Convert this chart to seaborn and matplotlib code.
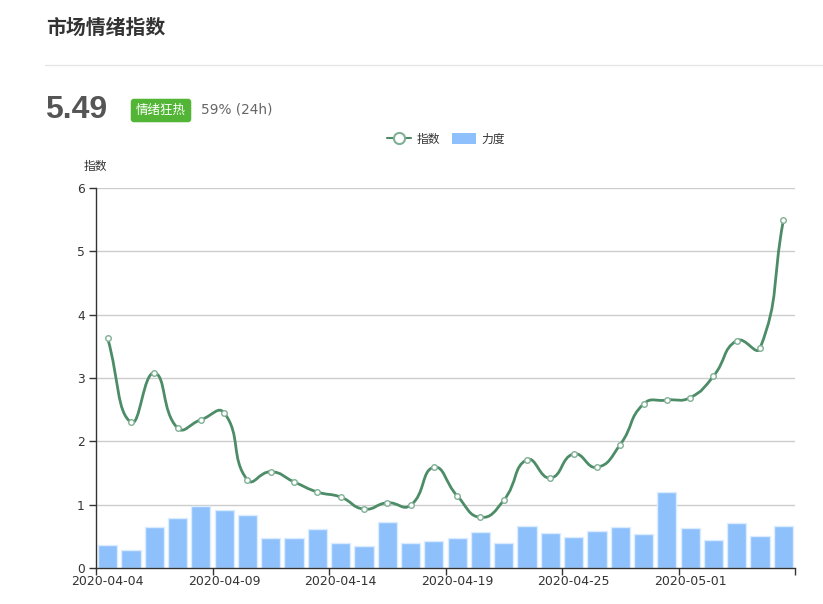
import numpy as np
import pandas as pd
import seaborn as sns
import matplotlib.pyplot as plt
from matplotlib.path import Path
from matplotlib.patches import PathPatch, Patch
from matplotlib.lines import Line2D

dates = ["2020-04-04", "2020-04-05", "2020-04-06", "2020-04-07", "2020-04-08",
         "2020-04-09", "2020-04-10", "2020-04-11", "2020-04-12", "2020-04-13",
         "2020-04-14", "2020-04-15", "2020-04-16", "2020-04-17", "2020-04-18",
         "2020-04-19", "2020-04-20", "2020-04-21", "2020-04-23", "2020-04-24",
         "2020-04-25", "2020-04-26", "2020-04-27", "2020-04-29", "2020-04-30",
         "2020-05-01", "2020-05-02", "2020-05-03", "2020-05-04", "2020-05-05"]

index_vals = [3.63, 2.30, 3.08, 2.21, 2.34, 2.45, 1.39, 1.52, 1.36, 1.20,
              1.12, 0.93, 1.03, 0.99, 1.59, 1.14, 0.80, 1.07, 1.71, 1.42,
              1.80, 1.59, 1.95, 2.59, 2.65, 2.69, 3.03, 3.59, 3.47, 5.49]

force_vals = [0.36, 0.29, 0.65, 0.79, 0.98, 0.91, 0.83, 0.47, 0.48, 0.61,
              0.40, 0.35, 0.73, 0.40, 0.43, 0.47, 0.57, 0.40, 0.67, 0.56,
              0.49, 0.585, 0.65, 0.53, 1.20, 0.63, 0.45, 0.71, 0.51, 0.67]

label_every = 5

LINE = "#4c8c66"
BAR = "#8ec1fc"

sns.set_theme()
sns.set_style("white")
plt.rcParams["font.family"] = ["Noto Sans CJK SC", "DejaVu Sans"]

df = pd.DataFrame({"date": dates, "index": index_vals, "force": force_vals})

fig = plt.figure(figsize=(8.23, 6.04), dpi=100)
ax = fig.add_axes([96 / 823, 36 / 604, 699 / 823, 380 / 604])

sns.barplot(data=df, x="date", y="force", order=dates, color=BAR, width=0.82,
            edgecolor="#dcecff", linewidth=1, saturation=1, ax=ax, zorder=2)

ax.set_xlim(-0.5, len(dates) - 0.5)
ax.set_ylim(0, 6)


# smooth line like echarts (smooth = 0.5), done in pixel-like units
def smooth_path(xs, ys, sx, sy, smooth=0.5):
    pts = np.column_stack([np.asarray(xs) * sx, np.asarray(ys) * sy])
    n = len(pts)
    verts = [pts[0]]
    codes = [Path.MOVETO]
    cps = []
    for i in range(n):
        prev = pts[i - 1] if i > 0 else pts[i]
        nxt = pts[i + 1] if i < n - 1 else pts[i]
        v = nxt - prev
        d0 = np.hypot(*(pts[i] - prev))
        d1 = np.hypot(*(pts[i] - nxt))
        s = d0 + d1
        if s == 0:
            cps.append((pts[i], pts[i]))
            continue
        cps.append((pts[i] - v * smooth * d0 / s, pts[i] + v * smooth * d1 / s))
    for i in range(n - 1):
        verts += [cps[i][1], cps[i + 1][0], pts[i + 1]]
        codes += [Path.CURVE4] * 3
    verts = np.array(verts)
    verts[:, 0] /= sx
    verts[:, 1] /= sy
    return Path(verts, codes)


xpos = np.arange(len(dates))
path = smooth_path(xpos, index_vals, 699 / 30, 380 / 6)
ax.add_patch(PathPatch(path, fill=False, edgecolor=LINE, lw=2, zorder=4))
ax.plot(xpos, index_vals, ls="none", marker="o", ms=4, mfc="white",
        mec="#7fb095", mew=1, zorder=5)

# axes styling
ax.grid(False)
ax.set_yticks(range(0, 7))
for yv in range(1, 7):
    ax.axhline(yv, color="#cccccc", lw=1, zorder=1)
ax.set_xticks(xpos[::label_every])
ax.set_xticklabels([dates[i] for i in xpos[::label_every]], family="DejaVu Sans")
ax.set_xticks(np.arange(-0.5, len(dates), label_every), minor=True)
ax.tick_params(axis="x", which="major", length=0, pad=5, labelsize=9, labelcolor="#333333")
ax.tick_params(axis="x", which="minor", length=5, width=1, color="#333333", direction="out")
ax.tick_params(axis="y", which="major", length=5, width=1, color="#333333", pad=3,
               labelsize=8.8, labelcolor="#333333", direction="out", left=True)
for lab in ax.get_yticklabels():
    lab.set_family("DejaVu Sans")
ax.tick_params(axis="x", which="minor", bottom=True)
for side in ["top", "right"]:
    ax.spines[side].set_visible(False)
for side in ["left", "bottom"]:
    ax.spines[side].set_color("#333333")
    ax.spines[side].set_linewidth(1)
ax.set_xlabel("")
ax.set_ylabel("")

# header
fig.text(46 / 823, 1 - 27 / 604, "市场情绪指数", fontsize=14.3, fontweight="bold",
         color="#333333", va="center", ha="left")
fig.add_artist(Line2D([45 / 823, 1], [1 - 65 / 604] * 2, color="#e6e6e6", lw=1))
fig.text(45 / 823, 1 - 110 / 604, "5.49", fontsize=23, fontweight="bold",
         color="#555555", va="center", ha="left", family="Liberation Sans")
fig.text(161 / 823, 1 - 110.5 / 604, "情绪狂热", fontsize=9, color="white",
         va="center", ha="center",
         bbox=dict(boxstyle="round,pad=0.42,rounding_size=0.25", fc="#52b535", ec="none"))
fig.text(201 / 823, 1 - 110 / 604, "59% (24h)", fontsize=9.8, color="#666666",
         va="center", ha="left", family="DejaVu Sans")
fig.text(95 / 823, 1 - 166 / 604, "指数", fontsize=8.5, color="#333333",
         va="center", ha="center")

handles = [
    Line2D([], [], color=LINE, lw=1.5, marker="o", ms=8, mfc="white", mec="#7fb095", mew=1.5),
    Patch(facecolor=BAR, edgecolor="none"),
]
fig.legend(handles, ["指数", "力度"], loc="center", bbox_to_anchor=(446 / 823, 1 - 139 / 604),
           ncol=2, frameon=False, fontsize=8.5, handlelength=2.0, handleheight=1.0,
           columnspacing=1.0, handletextpad=0.5, labelcolor="#333333")

fig.savefig("out.png", dpi=100)
